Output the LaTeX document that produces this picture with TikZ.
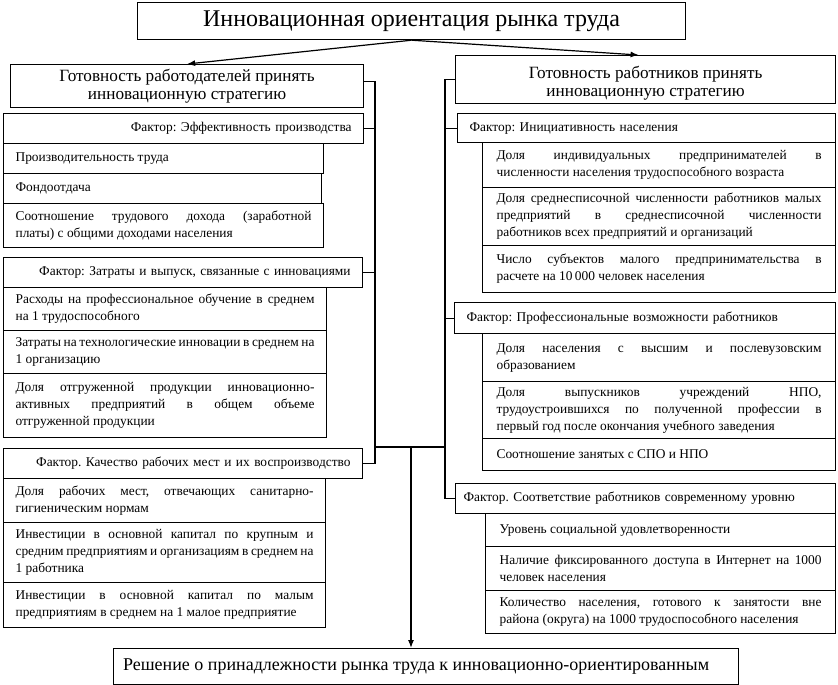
\documentclass[tikz,border=0pt]{standalone}
\usepackage{fontspec}
\setmainfont{Liberation Serif}
\usetikzlibrary{arrows.meta,calc}
\frenchspacing
\begin{document}
\begin{tikzpicture}[x=1pt,y=-1pt,
  cell/.style={draw, line width=1.2pt, anchor=north west, inner xsep=12pt, inner ysep=0pt,
    font=\fontsize{13.4}{17}\selectfont, align=justify},
  lfac/.style={cell, align=right},
  rfac/.style={cell, align=left},
  head/.style={draw, line width=1.2pt, anchor=north west, inner sep=0pt, align=center,
    font=\fontsize{17.2}{18}\selectfont},
  conn/.style={line width=1.2pt},
  arr/.style={line width=1.2pt, -{Latex[length=8pt,width=6pt]}}
]
\useasboundingbox (0,0) rectangle (838,685);

% title and headers
\node[head, minimum width=548, minimum height=37, font=\fontsize{24}{26}\selectfont] (title) at (137,2) {Инновационная ориентация рынка труда};
\node[head, minimum width=353, minimum height=43] (lh) at (10,64) {Готовность работодателей принять\\инновационную стратегию};
\node[head, minimum width=380, minimum height=48] (rh) at (455,55) {\rule{0pt}{20pt}Готовность работников принять\\инновационную стратегию};
\node[head, minimum width=625, minimum height=36, font=\fontsize{18}{20}\selectfont] (fin) at (113,648) {Решение о принадлежности рынка труда к инновационно-ориентированным\hspace*{20pt}};

% left factors
\node[lfac, text width=336, minimum height=30] (lf1) at (3,113) {Фактор: Эффективность производства};
\node[cell, text width=296, minimum height=30] (l11) at (3,143) {Производительность труда};
\node[cell, text width=294, minimum height=30] (l12) at (3,173) {Фондоотдача};
\node[cell, text width=296, minimum height=44] (l13) at (3,203) {Соотношение трудового дохода (заработной\linebreak платы) с общими доходами населения};

\node[lfac, text width=335, minimum height=30] (lf2) at (3,257) {Фактор: Затраты и выпуск, связанные с инновациями};
\node[cell, text width=299, minimum height=43] (l21) at (3,287) {Расходы на профессиональное обучение в среднем на 1 трудоспособного};
\node[cell, text width=299, minimum height=43] (l22) at (3,330) {Затраты на технологические инновации в среднем на 1 организацию};
\node[cell, text width=299, minimum height=64] (l23) at (3,373) {Доля отгруженной продукции инновационно-\linebreak активных предприятий в общем объеме\linebreak отгруженной продукции};

\node[lfac, text width=335, minimum height=30] (lf3) at (3,448) {Фактор. Качество рабочих мест и их воспроизводство};
\node[cell, text width=298, minimum height=44] (l31) at (3,478) {Доля рабочих мест, отвечающих санитарно-гигиеническим нормам};
\node[cell, text width=298, minimum height=60] (l32) at (3,522) {Инвестиции в основной капитал по крупным и средним предприятиям и организациям в среднем на 1 работника};
\node[cell, text width=298, minimum height=45] (l33) at (3,582) {Инвестиции в основной капитал по малым предприятиям в среднем на 1 малое предприятие};

% right factors
\node[rfac, text width=354, minimum height=29] (rf1) at (457,113) {Фактор: Инициативность населения};
\node[cell, inner xsep=14pt, text width=325, minimum height=45] (r11) at (482,142) {Доля индивидуальных предпринимателей в\linebreak численности населения трудоспособного возраста};
\node[cell, inner xsep=14pt, text width=325, minimum height=58] (r12) at (482,187) {Доля среднесписочной численности работников малых\linebreak предприятий в среднесписочной численности\linebreak работников всех предприятий и организаций};
\node[cell, inner xsep=14pt, text width=325, minimum height=47] (r13) at (482,245) {Число субъектов малого предпринимательства в\linebreak расчете на 10\,000 человек населения};

\node[rfac, text width=357, minimum height=31] (rf2) at (454,302) {Фактор: Профессиональные возможности работников};
\node[cell, inner xsep=14pt, text width=325, minimum height=48] (r21) at (482,333) {Доля населения с высшим и послевузовским образованием};
\node[cell, inner xsep=14pt, text width=325, minimum height=57] (r22) at (482,381) {Доля выпускников учреждений НПО,\linebreak трудоустроившихся по полученной профессии в\linebreak первый год после окончания учебного заведения};
\node[cell, inner xsep=14pt, text width=325, minimum height=32] (r23) at (482,438) {Соотношение занятых с СПО и НПО};

\node[rfac, inner xsep=8pt, text width=364, minimum height=30] (rf3) at (455,483) {Фактор. Соответствие работников современному уровню};
\node[cell, inner xsep=14pt, text width=322, minimum height=33] (r31) at (485,513) {Уровень социальной удовлетворенности};
\node[cell, inner xsep=14pt, text width=322, minimum height=44] (r32) at (485,546) {Наличие фиксированного доступа в Интернет на 1000 человек населения};
\node[cell, inner xsep=14pt, text width=322, minimum height=43] (r33) at (485,590) {Количество населения, готового к занятости вне\linebreak района (округа) на 1000 трудоспособного населения};

% junction coordinates
\coordinate (lvx) at (375,0);
\coordinate (rvx) at (445,0);
\coordinate (jl) at (375,447);
\coordinate (jr) at (445,447);
\coordinate (jm) at (411,447);

% title arrows
\draw[arr] (title.south) -- (lh.north);
\draw[arr] (title.south) -- ([xshift=-7pt]rh.north);

% left bracket
\draw[conn] ([yshift=4.5pt]lh.east) -- ([yshift=4.5pt]lh.east -| lvx) -- (lf3.east -| lvx) -- (lf3.east);
\draw[conn] (lf1.east) -- (lf1.east -| lvx);
\draw[conn] (lf2.east) -- (lf2.east -| lvx);

% right bracket
\draw[conn] (rh.west) -- (rh.west -| rvx) -- (rf3.west -| rvx) -- (rf3.west);
\draw[conn] (rf1.west) -- (rf1.west -| rvx);
\draw[conn] (rf2.west) -- (rf2.west -| rvx);

% cross line and final arrow
\draw[conn] (jl) -- (jr);
\draw[arr] (jm) -- (jm |- fin.north);
\end{tikzpicture}
\end{document}
